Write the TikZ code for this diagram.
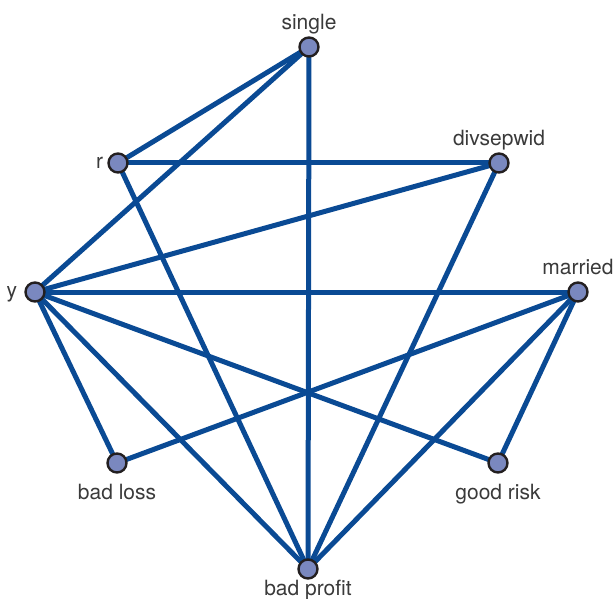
\documentclass[tikz,border=0pt]{standalone}
\usepackage{fontspec}
\setmainfont{TeX Gyre Heros}
\usepackage{tikz}
\usetikzlibrary{backgrounds}
\definecolor{edgeblue}{HTML}{0A4A94}
\definecolor{nodefill}{HTML}{7A88BF}
\definecolor{nodeline}{HTML}{231F20}
\definecolor{labelgray}{HTML}{3A3A3A}
\tikzset{
  var/.style={circle, draw=nodeline, fill=nodefill, line width=2.4pt, minimum size=19pt, inner sep=0},
  lbl/.style={font=\fontsize{21}{23}\selectfont, text=labelgray, inner sep=0, text height=15pt, text depth=4pt},
  link/.style={edgeblue, line width=5pt}
}

\begin{document}
\begin{tikzpicture}[x=1pt, y=-1pt]
\useasboundingbox (0,0) rectangle (616,599);
\node[var, label={[lbl, label distance=3pt]above:single}] (single) at (309,47) {};
\node[var, label={[lbl, label distance=4pt]left:r}] (r) at (118,163) {};
\node[var, label={[lbl, label distance=3pt]above:divsepwid}] (div) at (499,163) {};
\node[var, label={[lbl, label distance=7pt]left:y}] (y) at (35,292) {};
\node[var, label={[lbl, label distance=3pt]above:married}] (married) at (578,292) {};
\node[var, label={[lbl, label distance=11pt]below:bad loss}] (badloss) at (117,463) {};
\node[var, label={[lbl, label distance=11pt]below:good risk}] (goodrisk) at (498,463) {};
\node[var, label={[lbl, label distance=1pt]below:bad profit}] (badprofit) at (308,569) {};
\begin{scope}[on background layer]
\draw[link] (single.center)--(r.center);
\draw[link] (single.center)--(y.center);
\draw[link] (single.center)--(badprofit.center);
\draw[link] (r.center)--(div.center);
\draw[link] (r.center)--(badprofit.center);
\draw[link] (y.center)--(div.center);
\draw[link] (y.center)--(married.center);
\draw[link] (y.center)--(badloss.center);
\draw[link] (y.center)--(goodrisk.center);
\draw[link] (y.center)--(badprofit.center);
\draw[link] (div.center)--(badprofit.center);
\draw[link] (married.center)--(badloss.center);
\draw[link] (married.center)--(goodrisk.center);
\draw[link] (married.center)--(badprofit.center);
\end{scope}
\end{tikzpicture}
\end{document}
